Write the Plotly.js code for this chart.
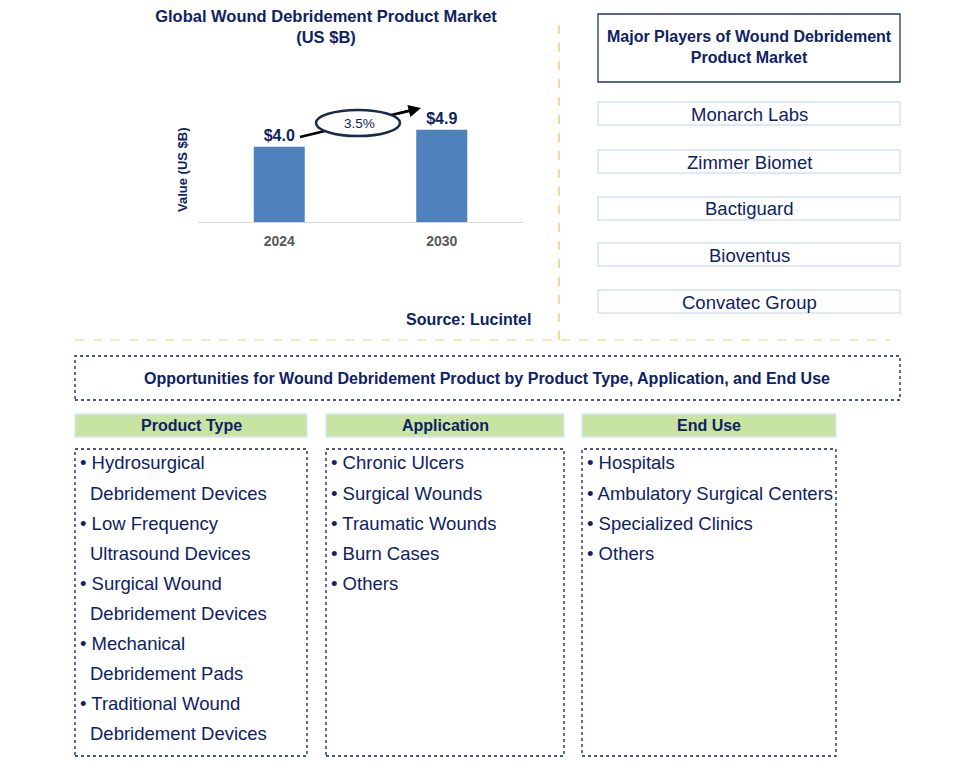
<!DOCTYPE html>
<html>
<head>
<meta charset="utf-8">
<script src="https://cdn.plot.ly/plotly-3.0.1.min.js"></script>
<style>html,body{margin:0;padding:0;background:#fff}</style>
</head>
<body>
<div id="chart" style="width:964px;height:777px"></div>
<script>
// ---------- data ----------
const years = ["2024", "2030"];
const values = [4.0, 4.9];
const cagr = "3.5%";
const chartTitle = "Global Wound Debridement Product Market<br>(US $B)";
const yTitle = "Value (US $B)";
const sourceText = "Source: Lucintel";
const playersTitle = "Major Players of Wound Debridement<br>Product Market";
const players = ["Monarch Labs", "Zimmer Biomet", "Bactiguard", "Bioventus", "Convatec Group"];
const opportunitiesTitle = "Opportunities for Wound Debridement Product by Product Type, Application, and End Use";
const segmentHeaders = ["Product Type", "Application", "End Use"];
const productTypes = ["Hydrosurgical Debridement Devices", "Low Frequency Ultrasound Devices",
  "Surgical Wound Debridement Devices", "Mechanical Debridement Pads", "Traditional Wound Debridement Devices"];
const applications = ["Chronic Ulcers", "Surgical Wounds", "Traumatic Wounds", "Burn Cases", "Others"];
const endUses = ["Hospitals", "Ambulatory Surgical Centers", "Specialized Clinics", "Others"];

// ---------- helpers ----------
const W = 964, H = 777;
const px = x => x / W;
const py = y => 1 - y / H;
const NAVY = "#0e2264";
const FONT = "Arial, 'Liberation Sans', sans-serif";

function wrap(text, maxChars) {
  const words = text.split(" ");
  const lines = [];
  let cur = "";
  words.forEach(w => {
    if (cur && (cur + " " + w).length > maxChars) { lines.push(cur); cur = w; }
    else cur = cur ? cur + " " + w : w;
  });
  if (cur) lines.push(cur);
  return lines;
}

const shapes = [];
const annotations = [];

function rect(x0, y0, x1, y1, line, fill, dash) {
  shapes.push({type: "rect", xref: "paper", yref: "paper",
    x0: px(x0), x1: px(x1), y0: py(y1), y1: py(y0),
    line: {color: line, width: 1.3, dash: dash || "solid"},
    fillcolor: fill || "rgba(0,0,0,0)", layer: "below"});
}
function text(x, y, t, size, opts) {
  opts = opts || {};
  annotations.push(Object.assign({xref: "paper", yref: "paper", x: px(x), y: py(y),
    text: t, showarrow: false, xanchor: "center", yanchor: "middle",
    font: {family: FONT, size: size, color: NAVY}}, opts));
}

// ---------- separators ----------
shapes.push({type: "line", xref: "paper", yref: "paper", x0: px(559), x1: px(559), y0: py(25), y1: py(346),
  line: {color: "#f0b429", width: 1, dash: "dash"}});
shapes.push({type: "line", xref: "paper", yref: "paper", x0: px(75), x1: px(890), y0: py(340), y1: py(340),
  line: {color: "#f5cf6a", width: 1, dash: "dash"}});

// ---------- CAGR ellipse + arrow ----------
shapes.push({type: "line", xref: "paper", yref: "paper", x0: px(300), y0: py(137), x1: px(412), y1: py(110),
  line: {color: "#000", width: 2.5}, layer: "above"});
shapes.push({type: "circle", xref: "paper", yref: "paper", x0: px(316), x1: px(400), y0: py(136), y1: py(110),
  line: {color: "#1a2b4a", width: 2.5}, fillcolor: "#ffffff", layer: "above"});
annotations.push({xref: "paper", yref: "paper", x: px(421), y: py(108), ax: -24, ay: 6, axref: "pixel", ayref: "pixel",
  showarrow: true, arrowhead: 2, arrowsize: 1, arrowwidth: 2.5, arrowcolor: "#000", text: ""});
text(359, 123, cagr, 13.5);

// y axis title
text(183, 170, "<b>" + yTitle + "</b>", 13, {textangle: -90});
// source
text(468, 320, "<b>" + sourceText + "</b>", 16);

// ---------- players ----------
rect(598, 14, 900, 82, "#1f3864");
text(749, 47, "<b>" + playersTitle + "</b>", 16);
const playerTops = [102, 150, 197, 243, 290];
players.forEach((p, i) => {
  const t = playerTops[i];
  rect(598, t, 900, t + 23, "#cfe3f3");
  text(749, t + 12, p, 18.5);
});

// ---------- opportunities ----------
rect(75, 356, 900, 400, NAVY, null, "dot");
text(487, 378, "<b>" + opportunitiesTitle + "</b>", 16);

const cols = [
  {x0: 75, x1: 307, items: productTypes, max: 20},
  {x0: 326, x1: 564, items: applications, max: 40},
  {x0: 582, x1: 836, items: endUses, max: 40}
];
cols.forEach((c, ci) => {
  rect(c.x0, 414, c.x1, 437, "#d6e8f5", "#c8e4a2");
  text((c.x0 + c.x1) / 2, 425.5, "<b>" + segmentHeaders[ci] + "</b>", 16);
  rect(c.x0, 449, c.x1, 756, NAVY, null, "dot");
  let y = 463;
  c.items.forEach(item => {
    const lines = wrap(item, c.max);
    lines.forEach((ln, li) => {
      if (li === 0) text(c.x0 + 3, y, "• " + ln, 18.5, {xanchor: "left"});
      else text(c.x0 + 13, y, ln, 18.5, {xanchor: "left"});
      y += 30;
    });
  });
});

// ---------- bar chart ----------
const trace = {
  type: "bar", x: years, y: values,
  marker: {color: "#4f81bd"},
  text: values.map(v => "$" + v.toFixed(1)),
  textposition: "outside",
  textfont: {family: FONT, size: 16, color: NAVY, weight: "bold"},
  cliponaxis: false, hoverinfo: "skip"
};

const layout = {
  width: W, height: H,
  margin: {l: 0, r: 0, t: 0, b: 0},
  paper_bgcolor: "#fff", plot_bgcolor: "rgba(0,0,0,0)",
  showlegend: false,
  bargap: 0.686,
  title: {text: "<b>" + chartTitle + "</b>", x: px(326), xanchor: "center", y: py(22), yanchor: "middle",
    font: {family: FONT, size: 16.5, color: NAVY}},
  xaxis: {domain: [px(198), px(523)], type: "category", showline: true, linecolor: "#d9d9d9", linewidth: 1,
    ticks: "", showgrid: false, zeroline: false, fixedrange: true, ticklabelstandoff: 6,
    tickfont: {family: FONT, size: 14, color: "#595959", weight: "bold"}},
  yaxis: {domain: [py(222), py(109)], range: [0, 6], visible: false, showgrid: false, zeroline: false, fixedrange: true},
  shapes: shapes,
  annotations: annotations
};

Plotly.newPlot("chart", [trace], layout, {displayModeBar: false, staticPlot: true});
</script>
</body>
</html>
